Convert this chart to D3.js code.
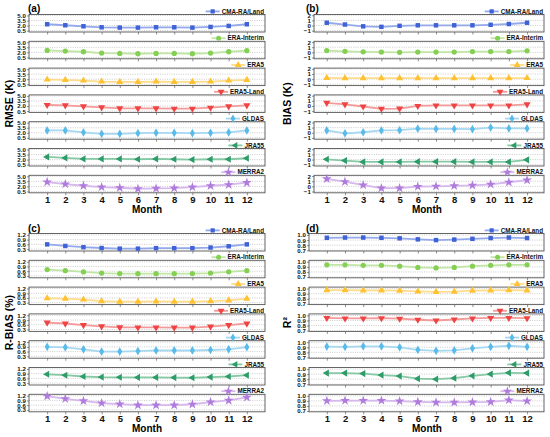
<!DOCTYPE html>
<html><head><meta charset="utf-8">
<script src="https://cdnjs.cloudflare.com/ajax/libs/d3/7.8.5/d3.min.js"></script>
<style>body{margin:0;background:#fff}svg{display:block;font-family:"Liberation Sans",Arial,sans-serif;font-weight:bold}</style>
</head><body><svg id="c" width="550" height="437"></svg>
<script>
const months = [1,2,3,4,5,6,7,8,9,10,11,12];
const products = ["CMA-RA/Land","ERA-Interim","ERA5","ERA5-Land","GLDAS","JRA55","MERRA2"];
const markerColors = ["#3f62d6","#86cf55","#ffc233","#ef4444","#5bbbe8","#2e9c68","#b07cdc"];
const lineColors = ["#93a9ec","#bfe6a3","#ffdc8c","#f59a9a","#a6d8f2","#86c9a6","#d6b7ee"];

const rmseTicks = [0.5, 2.0, 3.5, 5.0];
const biasTicks = [-1, 0, 1, 2];
const rbiasTicks = [0.3, 0.6, 0.9, 1.2];
const r2Ticks = [0.7, 0.8, 0.9, 1.0];

const rmse = [
  [2.4, 2.1, 1.8, 1.5, 1.4, 1.4, 1.5, 1.5, 1.4, 1.6, 1.9, 2.4],
  [2.6, 2.4, 2.2, 1.8, 1.7, 1.6, 1.7, 1.7, 1.6, 1.8, 2.2, 2.5],
  [1.9, 1.8, 1.6, 1.3, 1.2, 1.2, 1.3, 1.2, 1.2, 1.3, 1.6, 1.8],
  [2.3, 2.2, 1.9, 1.6, 1.3, 1.3, 1.3, 1.2, 1.2, 1.5, 1.9, 2.2],
  [2.7, 2.7, 2.1, 1.7, 1.7, 1.9, 2.0, 2.0, 1.9, 2.0, 2.1, 2.7],
  [2.8, 2.5, 2.2, 2.2, 2.2, 2.1, 2.2, 2.1, 2.0, 2.1, 2.1, 2.4],
  [3.3, 2.7, 2.2, 1.8, 1.6, 1.3, 1.4, 1.5, 1.8, 2.2, 2.5, 3.1]
];
const bias = [
  [0.55, 0.2, -0.15, -0.25, -0.05, 0.05, 0.05, 0.05, 0.05, 0.15, 0.3, 0.55],
  [0.35, 0.2, 0.1, 0.05, 0.0, 0.05, 0.05, 0.05, 0.15, 0.15, 0.15, 0.3],
  [0.25, 0.2, 0.2, 0.2, 0.2, 0.2, 0.2, 0.2, 0.2, 0.2, 0.2, 0.22],
  [0.6, 0.3, -0.1, -0.55, -0.5, 0.0, 0.1, 0.1, 0.1, 0.1, 0.1, 0.3],
  [0.45, -0.1, 0.1, 0.45, 0.5, 0.8, 0.75, 0.75, 0.7, 1.0, 0.85, 0.85],
  [0.05, -0.2, -0.45, -0.45, -0.45, -0.4, -0.4, -0.4, -0.45, -0.45, -0.45, -0.05],
  [1.45, 0.9, 0.25, -0.35, -0.35, -0.05, 0.0, 0.1, 0.2, 0.4, 0.8, 1.2]
];
const rbias = [
  [0.6, 0.5, 0.42, 0.37, 0.33, 0.33, 0.36, 0.36, 0.36, 0.4, 0.48, 0.6],
  [0.7, 0.63, 0.55, 0.48, 0.45, 0.44, 0.44, 0.44, 0.45, 0.48, 0.56, 0.63],
  [0.58, 0.56, 0.5, 0.4, 0.37, 0.37, 0.38, 0.37, 0.37, 0.4, 0.45, 0.56],
  [0.74, 0.68, 0.58, 0.5, 0.44, 0.43, 0.43, 0.42, 0.42, 0.48, 0.58, 0.68],
  [0.9, 0.87, 0.74, 0.6, 0.6, 0.63, 0.67, 0.67, 0.67, 0.7, 0.74, 0.88],
  [0.86, 0.8, 0.72, 0.68, 0.67, 0.66, 0.66, 0.65, 0.64, 0.68, 0.72, 0.8],
  [1.17, 1.0, 0.87, 0.73, 0.67, 0.6, 0.6, 0.6, 0.66, 0.8, 0.9, 1.1]
];
const r2 = [
  [0.945, 0.95, 0.95, 0.945, 0.935, 0.915, 0.9, 0.91, 0.925, 0.94, 0.95, 0.94],
  [0.94, 0.94, 0.93, 0.93, 0.915, 0.89, 0.88, 0.89, 0.915, 0.93, 0.94, 0.94],
  [0.97, 0.97, 0.965, 0.965, 0.96, 0.945, 0.935, 0.94, 0.96, 0.965, 0.97, 0.965],
  [0.95, 0.94, 0.94, 0.945, 0.935, 0.915, 0.9, 0.92, 0.94, 0.95, 0.95, 0.945],
  [0.915, 0.91, 0.92, 0.92, 0.9, 0.85, 0.83, 0.84, 0.88, 0.91, 0.93, 0.91],
  [0.92, 0.92, 0.91, 0.88, 0.86, 0.81, 0.8, 0.82, 0.865, 0.9, 0.925, 0.92],
  [0.9, 0.905, 0.905, 0.905, 0.895, 0.88, 0.87, 0.87, 0.875, 0.88, 0.915, 0.895]
];

const symbols = [
  {t: d3.symbolSquare, s: 20, r: 0},
  {t: d3.symbolCircle, s: 22, r: 0},
  {t: d3.symbolTriangle, s: 22, r: 0},
  {t: d3.symbolTriangle, s: 22, r: 180},
  {t: d3.symbolDiamond, s: 22, r: 0},
  {t: d3.symbolTriangle, s: 22, r: -90},
  {t: d3.symbolStar, s: 30, r: 0}
];

const panels = [
  {label:"(a)", lx:28, ly:12, x0:29, x1:265, xd:[0,13], top:14.5, data:rmse, yd:[0.1,5.3], ticks:rmseTicks, fmt:d3.format(".1f"), yl:"RMSE (K)", ylx:12.5},
  {label:"(b)", lx:306, ly:11.5, x0:314, x1:544, xd:[0.3,12.93], top:14.5, data:bias, yd:[-1.25,2.15], ticks:biasTicks, fmt:d3.format("d"), yl:"BIAS (K)", ylx:291},
  {label:"(c)", lx:28, ly:231.5, x0:29, x1:265, xd:[0,13], top:233.5, data:rbias, yd:[0.18,1.29], ticks:rbiasTicks, fmt:d3.format(".1f"), yl:"R-BIAS (%)", ylx:12.5},
  {label:"(d)", lx:306, ly:231.5, x0:309, x1:544, xd:[0.02,12.93], top:233.5, data:r2, yd:[0.685,1.03], ticks:r2Ticks, fmt:d3.format(".1f"), yl:"R²", ylx:291}
];

const svg = d3.select("#c");
const H = 17.5, PITCH = 26.8;
const FONT = '"Liberation Sans",Arial,sans-serif';

panels.forEach(p => {
  const g = svg.append("g");
  const x = d3.scaleLinear().domain(p.xd).range([p.x0, p.x1]);
  g.append("text").attr("x", p.lx).attr("y", p.ly).attr("font-size", 10).text(p.label);

  p.data.forEach((vals, i) => {
    const top = p.top + i * PITCH;
    const y = d3.scaleLinear().domain(p.yd).range([top + H, top]);
    const row = g.append("g");
    row.selectAll("line.grid").data(p.ticks).join("line")
      .attr("x1", p.x0).attr("x2", p.x1)
      .attr("y1", d => y(d)).attr("y2", d => y(d))
      .attr("stroke", "#a8a8a8").attr("stroke-width", 0.6).attr("stroke-dasharray", "1,1.3");
    const ya = d3.axisLeft(y).tickValues(p.ticks).tickFormat(p.fmt).tickSize(2).tickPadding(1.2);
    const yg = row.append("g").attr("transform", `translate(${p.x0},0)`).call(ya);
    yg.select(".domain").remove();
    yg.selectAll("line").attr("stroke", "#444").attr("stroke-width", 0.6);
    yg.selectAll("text").attr("font-size", 6.1).attr("font-weight", "bold").attr("font-family", FONT).attr("fill", "#111");
    const xa = d3.axisBottom(x).tickValues(months).tickSize(2.5).tickFormat(i === 6 ? d3.format("d") : "").tickPadding(1);
    const xg = row.append("g").attr("transform", `translate(0,${top + H})`).call(xa);
    xg.select(".domain").remove();
    xg.selectAll("line").attr("stroke", "#444").attr("stroke-width", 0.6);
    xg.selectAll("text").attr("font-size", 9.5).attr("font-weight", "bold").attr("font-family", FONT).attr("fill", "#111");
    row.append("rect").attr("x", p.x0).attr("y", top).attr("width", p.x1 - p.x0).attr("height", H)
      .attr("fill", "none").attr("stroke", "#555").attr("stroke-width", 0.9);
    const line = d3.line().x((d, k) => x(months[k])).y(d => y(d));
    row.append("path").datum(vals).attr("d", line).attr("fill", "none")
      .attr("stroke", lineColors[i]).attr("stroke-width", 1.8);
    const sym = symbols[i];
    const shape = d3.symbol().type(sym.t).size(sym.s);
    row.selectAll("path.m").data(vals).join("path").attr("class", "m")
      .attr("d", shape)
      .attr("transform", (d, k) => `translate(${x(months[k])},${y(d)}) rotate(${sym.r})`)
      .attr("fill", markerColors[i]);
    const lt = row.append("text").attr("x", p.x1 - 1).attr("y", top - 1)
      .attr("text-anchor", "end").attr("font-size", 6.3).attr("fill", "#111").text(products[i]);
    const w = lt.node().getComputedTextLength();
    const tx = p.x1 - 1 - w;
    const ly = top - 3.1;
    row.append("line").attr("x1", tx - 16).attr("x2", tx - 2).attr("y1", ly).attr("y2", ly)
      .attr("stroke", lineColors[i]).attr("stroke-width", 1.8);
    row.append("path").attr("d", d3.symbol().type(sym.t).size(sym.s * 0.9))
      .attr("transform", `translate(${tx - 9},${ly}) rotate(${sym.r})`).attr("fill", markerColors[i]);
  });

  const yTop = p.top, yBot = p.top + 6 * PITCH + H;
  g.append("text").attr("transform", `translate(${p.ylx},${(yTop + yBot) / 2}) rotate(-90)`)
    .attr("text-anchor", "middle").attr("font-size", 10.5).text(p.yl);
  g.append("text").attr("x", (x(1) + x(12)) / 2).attr("y", yBot + 20.5)
    .attr("text-anchor", "middle").attr("font-size", 10).text("Month");
});
</script>
</body></html>
